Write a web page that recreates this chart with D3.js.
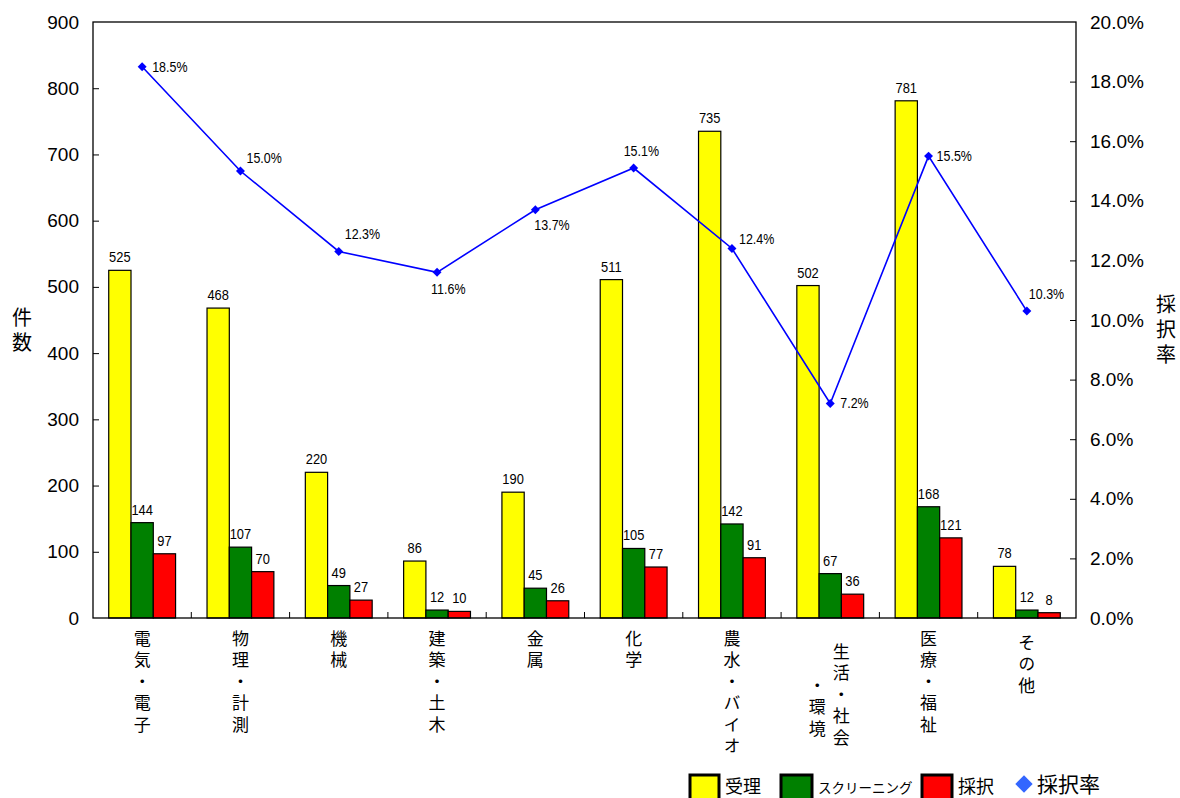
<!DOCTYPE html>
<html>
<head>
<meta charset="utf-8">
<script src="https://cdn.jsdelivr.net/npm/d3@7/dist/d3.min.js"></script>
<style>
  html, body { margin: 0; padding: 0; background: #fff; }
  svg { display: block; }
  .vtext { writing-mode: vertical-rl; text-orientation: upright; }
</style>
</head>
<body>
<svg id="chart" width="1180" height="798"></svg>
<script>
// Categories and series values
const categories = ["電気・電子", "物理・計測", "機械", "建築・土木", "金属", "化学", "農水・バイオ", "生活・社会・環境", "医療・福祉", "その他"];
const seriesNames = ["受理", "スクリーニング", "採択"];
const received = [525, 468, 220, 86, 190, 511, 735, 502, 781, 78];
const screened = [144, 107, 49, 12, 45, 105, 142, 67, 168, 12];
const adopted = [97, 70, 27, 10, 26, 77, 91, 36, 121, 8];
const adoptionRate = [18.5, 15.0, 12.3, 11.6, 13.7, 15.1, 12.4, 7.2, 15.5, 10.3];
const countTicks = [0, 100, 200, 300, 400, 500, 600, 700, 800, 900];
const rateTicks = [0, 2, 4, 6, 8, 10, 12, 14, 16, 18, 20];

// Placement of the rate labels relative to their markers
const rateLabelOffsets = [[10, 5], [6, -8], [6, -12], [-6, 22], [-1, 20], [-10, -12], [7, -4], [10, 5], [8, 5], [2, -12]];

const colors = ["#FFFF00", "#008000", "#FF0000"];
const lineColor = "#0000FF";
const jpFont = "'Noto Sans CJK JP', sans-serif";
const numFont = "'Liberation Sans', Arial, sans-serif";

const svg = d3.select("#chart");
const plot = { left: 93, right: 1076, top: 22, bottom: 618 };

const x = d3.scaleBand().domain(d3.range(categories.length)).range([plot.left, plot.right]).paddingInner(0).paddingOuter(0);
const groupW = x.bandwidth() * 0.68;
const xs = d3.scaleBand().domain(d3.range(3)).range([(x.bandwidth() - groupW) / 2, (x.bandwidth() + groupW) / 2]).padding(0);
const y = d3.scaleLinear().domain([0, 900]).range([plot.bottom, plot.top]);
const yr = d3.scaleLinear().domain([0, 20]).range([plot.bottom, plot.top]);

// Narrow value label: horizontally condensed text
function narrowLabel(g, px, py, txt, size, anchor) {
  g.append("text")
    .attr("transform", `translate(${px},${py}) scale(0.86,1)`)
    .attr("text-anchor", anchor)
    .attr("font-family", numFont)
    .attr("font-size", size)
    .attr("fill", "#000")
    .text(txt);
}

// Vertical text column
function verticalText(g, px, py, txt, size, spacing) {
  g.append("text")
    .attr("class", "vtext")
    .attr("x", px)
    .attr("y", py)
    .attr("font-family", jpFont)
    .attr("font-size", size)
    .attr("letter-spacing", spacing)
    .attr("fill", "#000")
    .text(txt);
}

// Bars
const seriesValues = [received, screened, adopted];
const groups = svg.append("g").selectAll("g").data(categories).join("g")
  .attr("transform", (d, i) => `translate(${x(i)},0)`);

groups.each(function (cat, i) {
  const g = d3.select(this);
  seriesValues.forEach((vals, s) => {
    g.append("rect")
      .attr("x", xs(s))
      .attr("y", y(vals[i]))
      .attr("width", xs.bandwidth())
      .attr("height", y(0) - y(vals[i]))
      .attr("fill", colors[s])
      .attr("stroke", "#000")
      .attr("stroke-width", 1.2);
    narrowLabel(g, xs(s) + xs.bandwidth() / 2, y(vals[i]) - 8, vals[i], 15, "middle");
  });
});

// Frame
svg.append("rect")
  .attr("x", plot.left).attr("y", plot.top)
  .attr("width", plot.right - plot.left).attr("height", plot.bottom - plot.top)
  .attr("fill", "none").attr("stroke", "#000").attr("stroke-width", 1.3);

// Left axis (ticks point inward)
const leftAxis = svg.append("g").attr("transform", `translate(${plot.left},0)`)
  .call(d3.axisLeft(y).tickValues(countTicks).tickSize(-6).tickPadding(14));
leftAxis.select(".domain").remove();
leftAxis.selectAll("line").attr("stroke", "#000");
leftAxis.selectAll("text").attr("font-family", numFont).attr("font-size", 19).attr("fill", "#000");
leftAxis.selectAll(".tick").filter(d => d === 0 || d === 900).select("line").remove();

// Right axis
const rightAxis = svg.append("g").attr("transform", `translate(${plot.right},0)`)
  .call(d3.axisRight(yr).tickValues(rateTicks).tickSize(-6).tickPadding(14).tickFormat(d => d.toFixed(1) + "%"));
rightAxis.select(".domain").remove();
rightAxis.selectAll("line").attr("stroke", "#000");
rightAxis.selectAll("text").attr("font-family", numFont).attr("font-size", 19).attr("fill", "#000");
rightAxis.selectAll(".tick").filter(d => d === 0 || d === 20).select("line").remove();

// Category boundary ticks on the bottom axis
svg.append("g").selectAll("line").data(d3.range(1, categories.length)).join("line")
  .attr("x1", i => x(i)).attr("x2", i => x(i))
  .attr("y1", plot.bottom).attr("y2", plot.bottom - 6)
  .attr("stroke", "#000");

// Vertical category labels; the long one wraps into two columns
const labelColumns = [
  [{ dx: 0, dy: 0, text: "電気・電子" }],
  [{ dx: 0, dy: 0, text: "物理・計測" }],
  [{ dx: 0, dy: 0, text: "機械" }],
  [{ dx: 0, dy: 0, text: "建築・土木" }],
  [{ dx: 0, dy: 0, text: "金属" }],
  [{ dx: 0, dy: 0, text: "化学" }],
  [{ dx: 0, dy: 0, text: "農水・バイオ" }],
  [{ dx: 11, dy: 13, text: "生活・社会" }, { dx: -13, dy: 47, text: "・環境" }],
  [{ dx: 0, dy: 0, text: "医療・福祉" }],
  [{ dx: 0, dy: 4, text: "その他" }]
];
const xl = svg.append("g");
labelColumns.forEach((cols, i) => {
  const cx = x(i) + x.bandwidth() / 2;
  cols.forEach(col => verticalText(xl, cx + col.dx, 630 + col.dy, col.text, 17, 4.5));
});

// Axis titles
verticalText(svg, 22, 307, "件数", 20, 5);
verticalText(svg, 1166, 294, "採択率", 20, 5);

// Adoption-rate line
const cxOf = i => x(i) + x.bandwidth() / 2;
svg.append("path")
  .datum(adoptionRate)
  .attr("d", d3.line().x((d, i) => cxOf(i)).y(d => yr(d)))
  .attr("fill", "none").attr("stroke", lineColor).attr("stroke-width", 1.6);
svg.append("g").selectAll("path").data(adoptionRate).join("path")
  .attr("transform", (d, i) => `translate(${cxOf(i)},${yr(d)}) rotate(45)`)
  .attr("d", d3.symbol().type(d3.symbolSquare).size(40))
  .attr("fill", lineColor);
const rateLabels = svg.append("g");
adoptionRate.forEach((d, i) => {
  narrowLabel(rateLabels, cxOf(i) + rateLabelOffsets[i][0], yr(d) + rateLabelOffsets[i][1], d.toFixed(1) + "%", 14.5, "start");
});

// Legend
const legend = svg.append("g");
const legendItems = [
  { x: 690, w: 29, name: seriesNames[0], size: 18, color: colors[0] },
  { x: 781, w: 31, name: seriesNames[1], size: 13.5, color: colors[1] },
  { x: 922, w: 30, name: seriesNames[2], size: 18, color: colors[2] }
];
legendItems.forEach(it => {
  legend.append("rect").attr("x", it.x).attr("y", 775).attr("width", it.w).attr("height", 30)
    .attr("fill", it.color).attr("stroke", "#000").attr("stroke-width", 3);
  legend.append("text").attr("x", it.x + it.w + 6).attr("y", 793)
    .attr("font-family", jpFont).attr("font-size", it.size).attr("fill", "#000").text(it.name);
});
legend.append("path").attr("transform", "translate(1024,784) rotate(45)")
  .attr("d", d3.symbol().type(d3.symbolSquare).size(150)).attr("fill", "#3366FF");
legend.append("text").attr("x", 1037).attr("y", 792)
  .attr("font-family", jpFont).attr("font-size", 21).attr("fill", "#000").text("採択率");
</script>
</body>
</html>
